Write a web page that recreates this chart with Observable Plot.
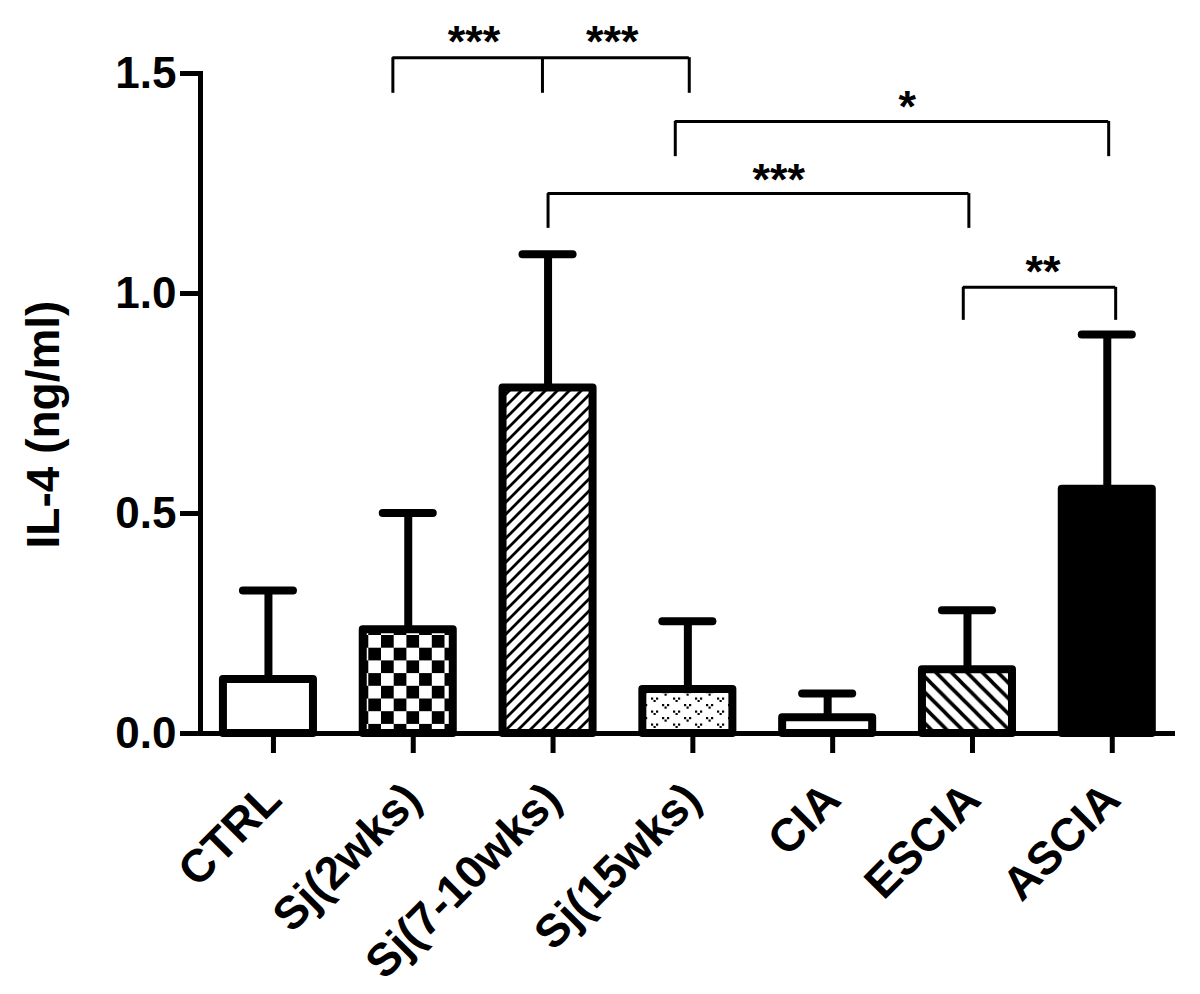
<!DOCTYPE html>
<html><head><meta charset="utf-8">
<script src="https://cdn.jsdelivr.net/npm/d3@7"></script>
<script src="https://cdn.jsdelivr.net/npm/@observablehq/plot@0.6"></script>
<style>body{margin:0;background:#fff}</style>
</head><body><div id="chart"></div>
<script>
// ---- data ----
const categories = ["CTRL", "Sj(2wks)", "Sj(7-10wks)", "Sj(15wks)", "CIA", "ESCIA", "ASCIA"];
const means = [0.123, 0.236, 0.785, 0.100, 0.036, 0.145, 0.555];
const sds   = [0.202, 0.265, 0.304, 0.155, 0.055, 0.135, 0.352];
const yTicks = [0, 0.5, 1.0, 1.5];
const yLabel = "IL-4 (ng/ml)";

// significance brackets (x in category-index units, y in ng/ml)
const bracketLegs = [[0.89, 1.96, 3.01], [2.91, 6.01], [2.0, 5.01], [4.97, 6.06]];
const bracketY    = [1.536, 1.391, 1.227, 1.014];
const bracketLegY = [1.455, 1.311, 1.148, 0.939];
const starLabels = ["***", "***", "*", "***", "**"];
const starX = [1.47, 2.46, 4.57, 3.65, 5.54];
const starY = [1.598, 1.598, 1.450, 1.284, 1.075];

// ---- styles ----
const fills = ["white", "url(#p-check)", "url(#p-fwd)", "url(#p-dots)", "white", "url(#p-back)", "black"];
const barHalf = 0.322, capHalf = 0.179;
const font = "'Liberation Sans', Arial, Helvetica, sans-serif";

const data = categories.map((c, i) => ({i, c, mean: means[i], sd: sds[i], fill: fills[i]}));
const brackets = bracketY.map((y, k) => ({y, yLeg: bracketLegY[k], x1: d3.min(bracketLegs[k]), x2: d3.max(bracketLegs[k])}));
const legs = bracketLegs.flatMap((xs, k) => xs.map(x => ({x, y1: bracketLegY[k], y2: bracketY[k]})));
const stars = starLabels.map((t, k) => ({t, x: starX[k], y: starY[k]}));

function defs() {
  const g = d3.create("svg:defs");
  // checkerboard
  const pc = g.append("pattern").attr("id", "p-check").attr("patternUnits", "userSpaceOnUse")
    .attr("width", 25.4).attr("height", 25.4);
  pc.append("rect").attr("width", 25.4).attr("height", 25.4).attr("fill", "white");
  pc.append("rect").attr("width", 12.7).attr("height", 12.7).attr("fill", "black");
  pc.append("rect").attr("x", 12.7).attr("y", 12.7).attr("width", 12.7).attr("height", 12.7).attr("fill", "black");
  // forward diagonal "/"
  const pf = g.append("pattern").attr("id", "p-fwd").attr("patternUnits", "userSpaceOnUse")
    .attr("width", 12).attr("height", 12);
  pf.append("rect").attr("width", 12).attr("height", 12).attr("fill", "white");
  pf.append("path").attr("d", "M-3,3L3,-3M0,12L12,0M9,15L15,9").attr("stroke", "black").attr("stroke-width", 2.8);
  // backward diagonal "\"
  const pb = g.append("pattern").attr("id", "p-back").attr("patternUnits", "userSpaceOnUse")
    .attr("width", 15.5).attr("height", 15.5);
  pb.append("rect").attr("width", 15.5).attr("height", 15.5).attr("fill", "white");
  pb.append("path").attr("d", "M0,0L15.5,15.5M-4,11.5L4,19.5M11.5,-4L19.5,4").attr("stroke", "black").attr("stroke-width", 3.6);
  // small "v" dots
  const pd = g.append("pattern").attr("id", "p-dots").attr("patternUnits", "userSpaceOnUse")
    .attr("width", 22).attr("height", 13);
  pd.append("rect").attr("width", 22).attr("height", 13).attr("fill", "white");
  for (const [ox, oy] of [[2, 2], [13, 8.5]]) {
    pd.append("rect").attr("x", ox).attr("y", oy).attr("width", 2.2).attr("height", 2.2).attr("fill", "black");
    pd.append("rect").attr("x", ox + 5).attr("y", oy).attr("width", 2.2).attr("height", 2.2).attr("fill", "black");
    pd.append("rect").attr("x", ox + 2.5).attr("y", oy + 2.5).attr("width", 2.2).attr("height", 2.2).attr("fill", "black");
  }
  return g.node();
}

const chart = Plot.plot({
  width: 1200,
  height: 994,
  marginLeft: 200,
  marginRight: 25,
  marginTop: 73,
  marginBottom: 261,
  style: {fontFamily: font, background: "white", color: "black", overflow: "visible"},
  x: {type: "linear", domain: [-0.486, 6.488]},
  y: {domain: [0, 1.5]},
  color: {type: "identity"},
  marks: [
    defs,
    // error bars
    Plot.ruleX(data, {x: "i", y1: "mean", y2: d => d.mean + d.sd, strokeWidth: 8}),
    Plot.ruleY(data, {x1: d => d.i - capHalf, x2: d => d.i + capHalf, y: d => d.mean + d.sd, strokeWidth: 8, strokeLinecap: "round"}),
    // bars
    Plot.rectY(data, {x1: d => d.i - barHalf, x2: d => d.i + barHalf, y: "mean", fill: "fill", stroke: "black", strokeWidth: 8, strokeLinejoin: "round"}),
    // axes
    Plot.ruleY([0], {strokeWidth: 5}),
    Plot.frame({anchor: "left", strokeWidth: 5}),
    Plot.axisY(yTicks, {tickSize: 20, tickPadding: 4, strokeWidth: 5, fontSize: 44, fontWeight: "bold", tickFormat: d3.format(".1f"), label: null}),
    Plot.axisX(d3.range(categories.length), {tickSize: 20, tickPadding: 38, tickRotate: -45, strokeWidth: 5, fontSize: 46, fontWeight: "bold", tickFormat: i => categories[i], label: null, dx: 5}),
    Plot.text([yLabel], {frameAnchor: "left", textAnchor: "middle", rotate: -90, dx: -156, dy: 21, fontSize: 46, fontWeight: "bold"}),
    // significance brackets
    Plot.ruleY(brackets, {x1: "x1", x2: "x2", y: "y", strokeWidth: 3}),
    Plot.ruleX(legs, {x: "x", y1: "y1", y2: "y2", strokeWidth: 3}),
    Plot.text(stars, {x: "x", y: "y", text: "t", fontSize: 45, fontWeight: "bold", dy: 12})
  ]
});
document.getElementById("chart").appendChild(chart);
</script>
</body></html>
